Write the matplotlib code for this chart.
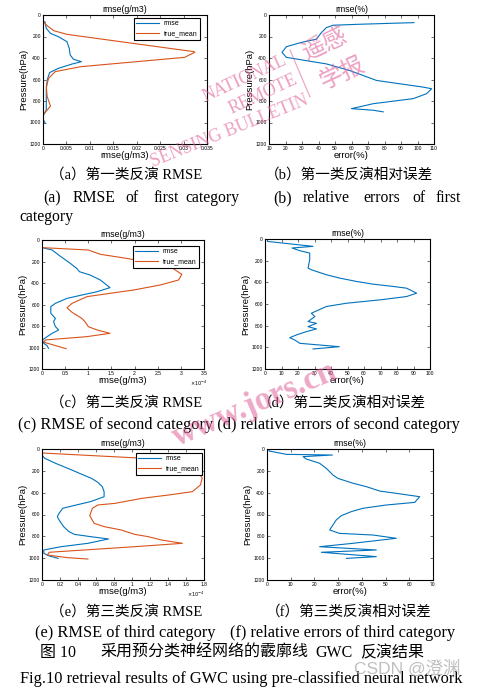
import numpy as np
import matplotlib
matplotlib.use('Agg')
import matplotlib.pyplot as plt
from matplotlib.lines import Line2D

W, H = 479, 689
blue = '#0072BD'
orange = '#D95319'
pink = '#e0609a'

# (a) first category rmse (g/m3)
aRmseP = [62, 124, 171, 202, 248, 310, 372, 412, 434, 456, 496, 536, 605, 698, 791, 884, 930, 977, 1008]
aRmse = [0.0004, 0.0007, 0.0016, 0.0033, 0.0051, 0.0056, 0.0058, 0.0065, 0.0082, 0.0062, 0.0033, 0.0014,
         0.0009, 0.0007, 0.0007, 0.0007, 0.0001, 0.0001, 0.0005]
aMeanP = [53, 93, 146, 180, 341, 347, 394, 481, 527, 589, 667, 760, 847, 884, 930, 992]
aMean = [0.0, 0.0007, 0.0023, 0.0051, 0.0322, 0.0324, 0.0302, 0.0080, 0.0026, 0.0012, 0.0007, 0.0009,
         0.0016, 0.0009, 0.0, 0.0001]

# (b) first category relative error (%)
bP = [71, 86, 95, 117, 163, 225, 255, 295, 348, 394, 425, 455, 517, 609, 640, 671, 686, 732, 778, 825, 871, 886, 901]
bErr = [97.9, 65, 48.9, 44.8, 41.8, 38.7, 29.6, 20.5, 17.9, 20.5, 32.7, 44.8, 59, 75.2, 89.4, 103.5, 108.6,
        105.5, 97.4, 73.2, 60, 73.2, 79.2]

# (c) second category, values in units of 1e-4 g/m3
cRmseP = [71, 93, 140, 217, 264, 295, 326, 372, 443, 481, 512, 543, 589, 620, 682, 729, 760, 806, 837, 868,
          899, 930, 961, 983, 1008]
cRmse = [0, 0.22, 0.36, 0.61, 0.75, 0.81, 1.04, 1.26, 1.47, 1.19, 0.86, 0.54, 0.29, 0.19, 0.19, 0.29, 0.25,
         0.29, 0.36, 0.22, 0.11, 0.01, 0.04, 0.11, 0.14]
cMeanP = [71, 93, 133, 171, 217, 248, 319, 372, 419, 465, 496, 527, 589, 630, 673, 729, 760, 806, 837, 868,
          899, 930, 952, 977, 1011]
cMean = [0, 1.0, 1.26, 1.83, 2.41, 2.77, 3.02, 2.95, 2.55, 1.98, 1.47, 0.97, 0.65, 0.54, 0.65, 0.86, 0.93,
         1.0, 1.19, 1.47, 0.97, 0.07, 0.05, 0.25, 0.52]

# (d) second category relative error (%)
dP = [0, 0, 22, 68, 83, 108, 130, 191, 268, 284, 330, 361, 392, 417, 438, 454, 500, 531, 562, 593, 623, 685,
      716, 762, 778, 809, 830, 855, 886, 911, 932, 963, 994, 1003, 1015]
dErr = [33.8, 1.6, 1.4, 29.1, 16.4, 21.1, 27.1, 27.1, 26.1, 28.1, 37.2, 45.3, 55.5, 65.6, 77.7, 85.8, 91.9,
        85.8, 69.6, 49.4, 37.2, 28.1, 30.2, 26.1, 31.2, 26.1, 31.2, 25.1, 19, 15, 18, 21.1, 45, 38.3, 29.1]

# (e) third category, values in units of 1e-4 g/m3
eRmseP = [55, 85, 131, 192, 238, 269, 305, 345, 391, 437, 482, 513, 543, 589, 620, 650, 711, 757, 782, 803,
          824, 864, 895, 925, 956, 980, 1002]
eRmse = [0, 0.03, 0.15, 0.33, 0.46, 0.55, 0.62, 0.67, 0.69, 0.69, 0.54, 0.38, 0.23, 0.19, 0.17, 0.19, 0.24,
         0.3, 0.36, 0.54, 0.74, 0.51, 0.21, 0.02, 0.02, 0.08, 0.18]
eMeanP = [15, 37, 82, 147, 192, 266, 330, 391, 421, 452, 498, 513, 543, 611, 681, 711, 742, 782, 803, 834,
          864, 895, 925, 946, 971, 995, 1008]
eMean = [0, 0.01, 1.06, 1.31, 1.72, 1.78, 1.76, 1.67, 1.41, 1.11, 0.81, 0.62, 0.56, 0.53, 0.58, 0.69, 0.88,
         1.03, 1.18, 1.33, 1.56, 1.03, 0.47, 0.08, 0.06, 0.28, 0.51]

# (f) third category relative error (%)
fP = [0, 0, 18, 49, 55, 70, 92, 131, 177, 238, 269, 314, 345, 385, 406, 437, 489, 513, 543, 574, 611, 650,
      742, 773, 788, 818, 864, 895, 925, 946, 986, 1002]
fErr = [34, 1.1, 0.8, 8.2, 27.6, 15.2, 16.6, 22.2, 25, 27.8, 29.9, 36.3, 41.9, 47.5, 54.5, 64.4, 62.3, 50.3,
        40.5, 35.5, 31.3, 29.2, 26.4, 30.6, 44.7, 54.5, 36.2, 22.2, 46.1, 22.9, 46.1, 33.5]

yTicks = [0, 200, 400, 600, 800, 1000, 1200]

plt.rcParams['font.family'] = ['Liberation Sans', 'DejaVu Sans']
fig = plt.figure(figsize=(W / 100, H / 100), dpi=100)


def box(l, t, r, b):
    return [l / W, 1 - b / H, (r - l) / W, (b - t) / H]


def matlabAxes(rect, title, xlabel, xticks, xlim):
    ax = fig.add_axes(rect)
    ax.set_xlim(xlim)
    ax.set_ylim(1200, 0)
    ax.set_xticks(xticks)
    ax.set_yticks(yTicks)
    ax.set_xticklabels(['%g' % v for v in xticks])
    ax.set_yticklabels(['%g' % v for v in yTicks])
    ax.tick_params(direction='in', length=2, width=0.4, labelsize=3.6, pad=1.5, top=True, right=True)
    for s in ax.spines.values():
        s.set_linewidth(0.8)
    ax.set_title(title, fontsize=6.3, pad=2)
    ax.set_xlabel(xlabel, fontsize=6.8, labelpad=0)
    ax.set_ylabel('Pressure(hPa)', fontsize=6.8, labelpad=1)
    return ax


def addLegend(ax, x, y):
    leg = ax.legend(loc='upper right', bbox_to_anchor=(x, y), borderaxespad=0, fontsize=5,
                    fancybox=False, edgecolor='black', framealpha=1, handlelength=3.3,
                    borderpad=0.35, labelspacing=0.45, handletextpad=0.7)
    leg.get_frame().set_linewidth(0.8)


lw = 0.8

ax = matlabAxes(box(43, 15, 207, 144), 'rmse(g/m3)', 'rmse(g/m3)',
                [0, 0.005, 0.01, 0.015, 0.02, 0.025, 0.03, 0.035], (0, 0.035))
ax.plot(aRmse, aRmseP, color=blue, lw=lw, label='rmse')
ax.plot(aMean, aMeanP, color=orange, lw=lw, label='true_mean')
addLegend(ax, 0.957, 0.977)

ax = matlabAxes(box(269, 15, 434, 144), 'rmse(%)', 'error(%)', list(range(10, 111, 10)), (10, 110))
ax.plot(bErr, bP, color=blue, lw=lw)

ax = matlabAxes(box(42, 240, 204, 369), 'rmse(g/m3)', 'rmse(g/m3)',
                [0, 0.5, 1, 1.5, 2, 2.5, 3, 3.5], (0, 3.5))
ax.plot(cRmse, cRmseP, color=blue, lw=lw, label='rmse')
ax.plot(cMean, cMeanP, color=orange, lw=lw, label='true_mean')
addLegend(ax, 0.969, 0.953)
ax.text(0.97, -0.075, r'$\times10^{-4}$', transform=ax.transAxes, fontsize=3.6, ha='center', va='top')

ax = matlabAxes(box(265, 239, 430, 369), 'rmse(%)', 'error(%)', list(range(0, 101, 10)), (0, 100))
ax.plot(dErr, dP, color=blue, lw=lw)

ax = matlabAxes(box(42, 449, 204, 580), 'rmse(g/m3)', 'rmse(g/m3)',
                [0, 0.2, 0.4, 0.6, 0.8, 1, 1.2, 1.4, 1.6, 1.8], (0, 1.8))
ax.plot(eRmse, eRmseP, color=blue, lw=lw, label='rmse')
ax.plot(eMean, eMeanP, color=orange, lw=lw, label='true_mean')
addLegend(ax, 0.988, 0.97)
ax.text(0.95, -0.075, r'$\times10^{-4}$', transform=ax.transAxes, fontsize=3.6, ha='center', va='top')

ax = matlabAxes(box(267, 449, 433, 580), 'rmse(%)', 'error(%)', list(range(0, 71, 10)), (0, 70))
ax.plot(fErr, fP, color=blue, lw=lw)

# captions
cap = ['Liberation Serif', 'Noto Sans CJK SC']


def put(x, y, s, size=10.5, **kw):
    fig.text(x / W, 1 - y / H, s, fontsize=size, family=cap, va='center', **kw)


en = 11.8
put(126, 175, '（a）第一类反演 RMSE', ha='center')
put(349, 175, '（b）第一类反演相对误差', ha='center')
words = [(43, '(a)'), (73, 'RMSE'), (125, 'of'), (153, 'first'), (185, 'category'),
         (273, '(b)'), (303, 'relative'), (363, 'errors'), (412, 'of'), (435, 'first')]
for x, w in words:
    put(x, 198, w, size=11.3)
put(19, 217, 'category', size=11.3)

put(126, 403, '（c）第二类反演 RMSE', ha='center')
put(342, 403, '（d）第二类反演相对误差', ha='center')
put(18, 425, '(c) RMSE of second category (d) relative errors of second category', size=en)

put(126, 612, '（e）第三类反演 RMSE', ha='center')
put(349, 612, '（f）第三类反演相对误差', ha='center')
put(35, 633, '(e) RMSE of third category', size=en)
put(230, 633, '(f) relative errors of third category', size=en)
put(40, 653, '图 10', size=11.5)
put(100, 653, '采用预分类神经网络的霰廓线', size=11.5)
put(315, 653, 'GWC', size=11.5)
put(360, 653, '反演结果', size=11.5)
put(20, 679, 'Fig.10 retrieval results of GWC using pre-classified neural network', size=en)

# watermarks
def mark(x, y, s, size, rot, **kw):
    fig.text(x / W, 1 - y / H, s, fontsize=size, rotation=rot, rotation_mode='anchor',
             ha='center', va='center', **kw)


mark(245, 79, 'NATIONAL', 13, 25, family='Liberation Serif', color=pink, alpha=0.6)
mark(263, 94, 'REMOTE', 13, 25, family='Liberation Serif', color=pink, alpha=0.6)
mark(229, 131, 'SENSING BULLETIN', 13, 22, family='Liberation Serif', color=pink, alpha=0.6)
mark(325, 45, '遥感', 17, 25, family='Noto Sans CJK SC', color=pink, alpha=0.6)
mark(342, 73, '学报', 17, 25, family='Noto Sans CJK SC', color=pink, alpha=0.6)
fig.add_artist(Line2D([290 / W, 310 / W], [1 - 50 / H, 1 - 97 / H], color=pink, alpha=0.6, lw=0.8))
mark(255, 404, 'www.jors.cn', 24, 23, family='Liberation Serif', weight='bold', color=pink, alpha=0.55)
mark(407, 668, 'CSDN @澄渊', 12.5, 0, family=['Liberation Sans', 'Noto Sans CJK SC'], color='#b0b0b0', alpha=0.8)

fig.savefig('out.png', dpi=100)
